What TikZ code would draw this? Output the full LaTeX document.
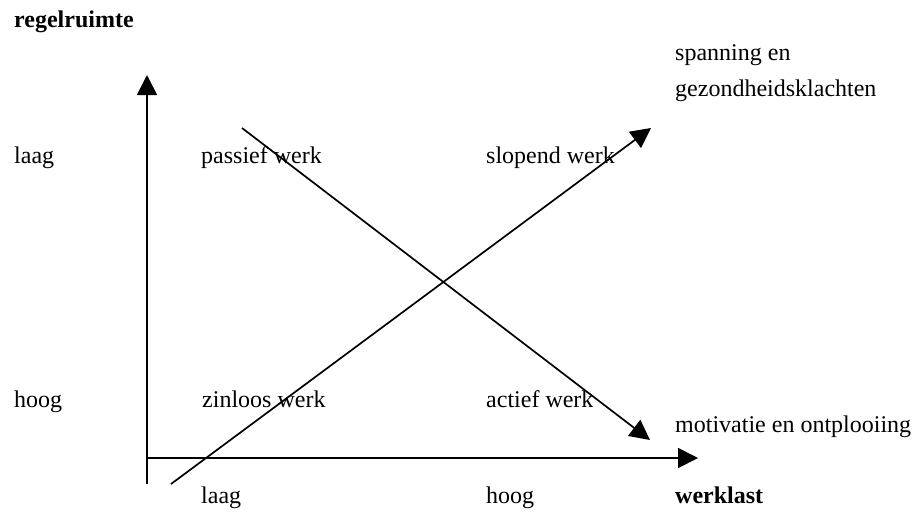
\documentclass[tikz,border=0pt]{standalone}
\usepackage{fontspec}
\setmainfont{Liberation Serif}
\usetikzlibrary{arrows.meta}
\begin{document}
\begin{tikzpicture}[x=1pt,y=-1pt,
  lbl/.style={anchor=base west,inner sep=0pt,font=\fontsize{24}{28}\selectfont},
  blbl/.style={lbl,font=\fontsize{24}{28}\selectfont\bfseries},
  arr/.style={line width=1.7pt,-{Triangle[length=20pt,width=20pt]}}]
\useasboundingbox (0,0) rectangle (915,515);
% labels
\node[blbl] (yl) at (14,27) {regelruimte};
\node[lbl] (sp1) at (675,60) {spanning en};
\node[lbl] (sp2) at (675,96) {gezondheidsklachten};
\node[lbl] (laagL) at (14,163) {laag};
\node[lbl] (pw) at (201,163) {passief werk};
\node[lbl] (sw) at (486,163) {slopend werk};
\node[lbl] (hoogL) at (14,407) {hoog};
\node[lbl] (zw) at (202,407) {zinloos werk};
\node[lbl] (aw) at (486,407) {actief werk};
\node[lbl] (mo) at (675,432) {motivatie en ontplooiing};
\node[lbl] (laagB) at (201,503) {laag};
\node[lbl] (hoogB) at (486,503) {hoog};
\node[blbl] (xl) at (675,503) {werklast};
% axes and arrows
\coordinate (vb) at (147,484);
\coordinate (vt) at (147,75);
\coordinate (hl) at (147,458);
\coordinate (hr) at (698,458);
\coordinate (ua) at (171,484);
\coordinate (ub) at (651,128);
\coordinate (da) at (242,128);
\coordinate (db) at (650,440);
\draw[arr] (vb) -- (vt);
\draw[arr] (hl) -- (hr);
\draw[arr] (ua) -- (ub);
\draw[arr] (da) -- (db);
\end{tikzpicture}
\end{document}
